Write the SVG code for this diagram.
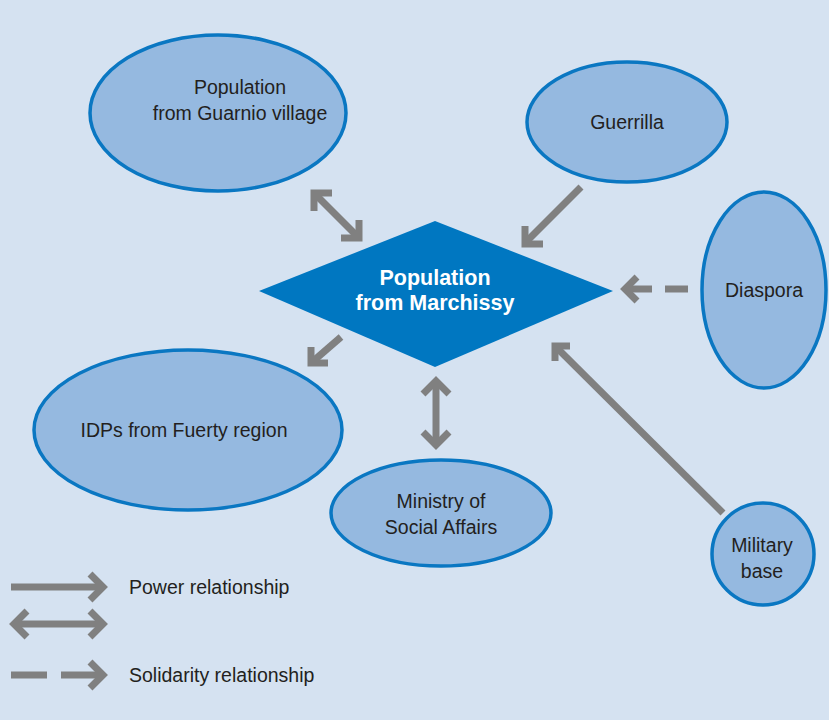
<svg xmlns="http://www.w3.org/2000/svg" width="829" height="720" viewBox="0 0 829 720">
<defs>
<style>
.node{fill:#95b9e0;stroke:#0a77c2;stroke-width:3.5}
.lbl{font-family:"Liberation Sans",Arial,sans-serif;font-size:19.5px;fill:#231f20;text-anchor:middle}
.hub{font-family:"Liberation Sans",Arial,sans-serif;font-size:21.5px;font-weight:bold;fill:#ffffff;text-anchor:middle}
.ln{fill:none;stroke:#808080;stroke-width:7}
.hd{fill:none;stroke:#808080;stroke-width:7;stroke-linecap:butt;stroke-linejoin:miter}
</style>
</defs>
<rect x="0" y="0" width="829" height="720" fill="#d5e2f1"/>

<g id="hub">
<polygon points="259,291 435,221 613,291 435,367" fill="#0077c1"/>
<text class="hub" x="435" y="285">Population</text>
<text class="hub" x="435" y="310">from Marchissy</text>
</g>

<g id="guarnio">
<ellipse class="node" cx="218" cy="113" rx="128" ry="78"/>
<text class="lbl" x="240" y="94">Population</text>
<text class="lbl" x="240" y="120">from Guarnio village</text>
</g>

<g id="guerrilla">
<ellipse class="node" cx="627" cy="122" rx="100" ry="60"/>
<text class="lbl" x="627" y="129">Guerrilla</text>
</g>

<g id="diaspora">
<ellipse class="node" cx="764" cy="290" rx="62" ry="98"/>
<text class="lbl" x="764" y="297">Diaspora</text>
</g>

<g id="idps">
<ellipse class="node" cx="188" cy="430" rx="154" ry="80"/>
<text class="lbl" x="184" y="437">IDPs from Fuerty region</text>
</g>

<g id="ministry">
<ellipse class="node" cx="441" cy="513" rx="110" ry="53"/>
<text class="lbl" x="441" y="508">Ministry of</text>
<text class="lbl" x="441" y="534">Social Affairs</text>
</g>

<g id="military">
<circle class="node" cx="763" cy="554" r="51"/>
<text class="lbl" x="762" y="552">Military</text>
<text class="lbl" x="762" y="578">base</text>
</g>

<g id="connectors">
<!-- Guarnio <-> hub -->
<line class="ln" x1="314" y1="193" x2="359" y2="238"/>
<polyline class="hd" points="332,193 314,193 314,211"/>
<polyline class="hd" points="341,238 359,238 359,220"/>
<!-- Guerrilla -> hub -->
<line class="ln" x1="581" y1="187" x2="525" y2="243"/>
<polyline class="hd" points="525,226 525,244 543,244"/>
<!-- Diaspora -> hub (dashed) -->
<line class="ln" x1="665" y1="289" x2="688" y2="289"/>
<line class="ln" x1="625" y1="289" x2="652" y2="289"/>
<polyline class="hd" points="637,277 625,289 637,301"/>
<!-- Military -> hub -->
<line class="ln" x1="723" y1="513" x2="555" y2="346"/>
<polyline class="hd" points="570,346 555,346 555,361"/>
<!-- hub -> IDPs -->
<line class="ln" x1="341" y1="337" x2="311" y2="363"/>
<polyline class="hd" points="311,347 311,363 328,363"/>
<!-- hub <-> Ministry -->
<line class="ln" x1="436" y1="381" x2="436" y2="445"/>
<polyline class="hd" points="423,394 436,381 449,394"/>
<polyline class="hd" points="423,432 436,445 449,432"/>
</g>

<g id="legend">
<line class="ln" x1="11" y1="587" x2="103" y2="587"/>
<polyline class="hd" points="90,574 103,587 90,600"/>
<text class="lbl" x="129" y="594" style="text-anchor:start">Power relationship</text>
<line class="ln" x1="14" y1="624" x2="103" y2="624"/>
<polyline class="hd" points="27,611 14,624 27,637"/>
<polyline class="hd" points="90,611 103,624 90,637"/>
<line class="ln" x1="11" y1="675" x2="47" y2="675"/>
<line class="ln" x1="61" y1="675" x2="103" y2="675"/>
<polyline class="hd" points="90,662 103,675 90,688"/>
<text class="lbl" x="129" y="682" style="text-anchor:start">Solidarity relationship</text>
</g>
</svg>
